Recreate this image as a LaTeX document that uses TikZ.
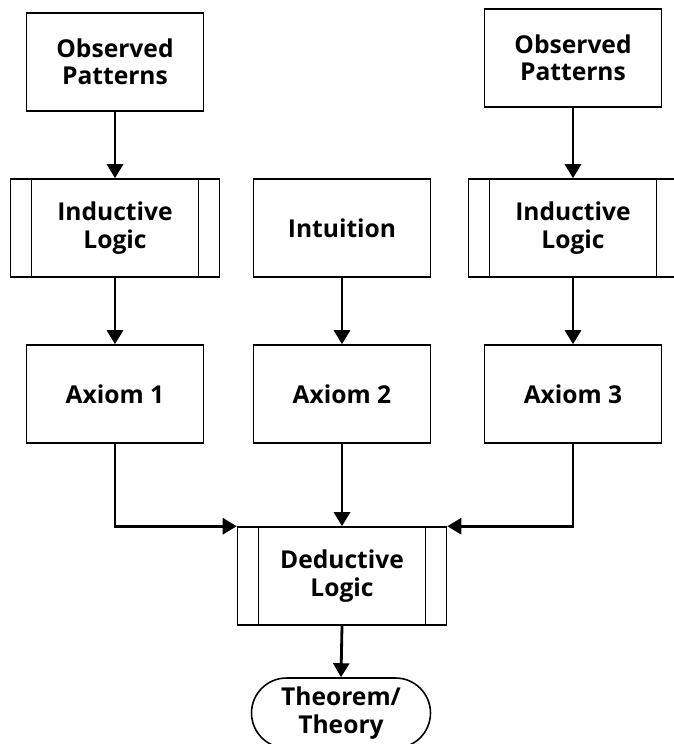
\documentclass[tikz,border=0pt]{standalone}
\usepackage{fontspec}
\setmainfont{Open Sans}
\usetikzlibrary{arrows.meta}

\begin{document}
\begin{tikzpicture}[x=0.02cm, y=-0.02cm, >={Triangle[width=0.32cm, length=0.28cm]},
  box/.style={draw, line width=0.9pt, minimum width=3.54cm, minimum height=1.96cm, align=center, font=\fontsize{14}{15.5}\selectfont\bfseries},
  process/.style={box, minimum width=4.18cm, path picture={
    \draw[line width=0.9pt] ([xshift=0.42cm]path picture bounding box.north west) -- ([xshift=0.42cm]path picture bounding box.south west);
    \draw[line width=0.9pt] ([xshift=-0.42cm]path picture bounding box.north east) -- ([xshift=-0.42cm]path picture bounding box.south east);}},
  terminal/.style={box, rounded corners=0.7cm, minimum width=3.58cm, minimum height=1.4cm},
  link/.style={line width=1.6pt}]

\useasboundingbox (0, 0) rectangle (673, 744);

\node (observed1)  at (115, 62)  [box] {Observed\\Patterns};
\node (observed2)  at (573, 58)  [box] {Observed\\Patterns};

\node (inductive1) at (115, 228) [process] {Inductive\\Logic};
\node (intuition)  at (342, 228) [box] {Intuition};
\node (inductive2) at (573, 228) [process] {Inductive\\Logic};

\node (axiom1) at (115, 394) [box] {Axiom 1};
\node (axiom2) at (342, 394) [box] {Axiom 2};
\node (axiom3) at (573, 394) [box] {Axiom 3};

\node (deductive) at (342, 576) [process] {Deductive\\Logic};
\node (theory)    at (341, 713) [terminal] {Theorem/\\Theory};

\path[->, link] (observed1.south) edge (inductive1.north);
\path[->, link] (observed2.south) edge (inductive2.north);

\path[->, link] (inductive1.south) edge (axiom1.north);
\path[->, link] (intuition.south)  edge (axiom2.north);
\path[->, link] (inductive2.south) edge (axiom3.north);

\draw[->, link] (axiom1.south) |- (deductive.north west);
\path[->, link] (axiom2.south) edge (deductive.north);
\draw[->, link] (axiom3.south) |- (deductive.north east);

\path[->, link] (deductive.south) edge (theory.north);

\end{tikzpicture}
\end{document}
